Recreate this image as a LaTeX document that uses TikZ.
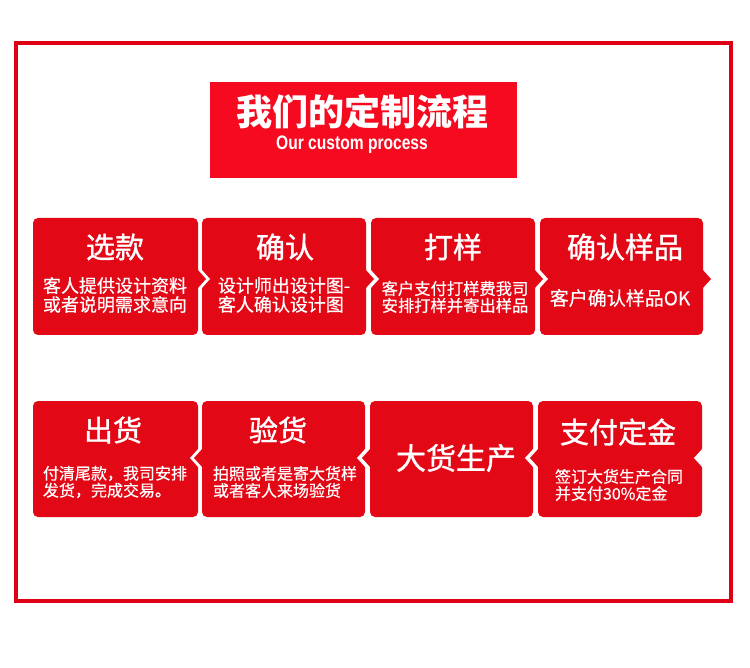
\documentclass[tikz,border=0pt]{standalone}
\usepackage{fontspec}
\setmainfont{Noto Sans CJK SC}
\newfontfamily\latinbold{Liberation Sans}
\newfontfamily\cjkmed{Noto Sans CJK SC}[FakeBold=1.2]
\newfontfamily\cjksub{Noto Sans CJK SC}[FakeBold=0.5]
\usepackage{graphicx}
\definecolor{boxred}{RGB}{226,8,22}
\definecolor{titlered}{RGB}{245,10,32}
\definecolor{framered}{RGB}{224,0,22}
\tikzset{
  boxshape/.style={fill=boxred, rounded corners=5pt},
  boxtitle/.style={text=white, inner sep=0pt, font=\cjkmed\fontsize{29}{29}\selectfont},
  boxsub/.style={text=white, inner sep=0pt, align=left, font=\cjksub\fontsize{18}{19}\selectfont},
  boxsubsmall/.style={text=white, inner sep=0pt, align=left, font=\cjksub\fontsize{16}{17}\selectfont},
}
% args: xl, xr, yt, yb
\newcommand{\redbox}[4]{\fill[boxshape] (#1,#3) rectangle (#2,#4);}
% notch (white triangle) pointing right into box at left edge xl, center y
\newcommand{\notchR}[2]{\fill[white] (#1-1,#2-10) -- (#1+8,#2) -- (#1-1,#2+10) -- cycle;}
% protrusion pointing right from right edge xr
\newcommand{\pointR}[2]{\fill[boxred] (#1-1,#2-10) -- (#1+8,#2) -- (#1-1,#2+10) -- cycle;}
% notch pointing left into box at right edge xr
\newcommand{\notchL}[2]{\fill[white] (#1+1,#2-10) -- (#1-8,#2) -- (#1+1,#2+10) -- cycle;}
% protrusion pointing left from left edge xl
\newcommand{\pointL}[2]{\fill[boxred] (#1+1,#2-10) -- (#1-8,#2) -- (#1+1,#2+10) -- cycle;}
\begin{document}
\begin{tikzpicture}[x=1pt,y=-1pt]
\useasboundingbox (0,0) rectangle (750,668);
\fill[white] (0,0) rectangle (750,668);
% frame
\draw[framered, line width=4.5pt] (16,43) rectangle (731,601);
% title
\fill[titlered] (210,82) rectangle (517,178);
\node[text=white, inner sep=0pt, font=\fontsize{36}{36}\selectfont\bfseries] (title) at (362,112) {我们的定制流程};
\node[text=white, inner sep=0pt] (subtitle) at (352,145) {\scalebox{0.8}[1]{\fontsize{19.5}{19.5}\selectfont\latinbold\bfseries Our custom process}};

% row 1 boxes
\redbox{33}{198}{218}{335}
\redbox{202}{366}{218}{335}
\redbox{371}{535}{218}{335}
\redbox{540}{703}{218}{335}
\notchR{202}{279}
\notchR{371}{279}
\notchR{540}{279}
\pointR{198}{279}
\pointR{366}{279}
\pointR{535}{279}
\pointR{703}{279}

% row 2 boxes
\redbox{33}{198}{401}{517}
\redbox{202}{365}{401}{517}
\redbox{370}{533}{401}{517}
\redbox{538}{702}{401}{517}
\notchL{198}{458}
\notchL{365}{458}
\notchL{533}{458}
\notchL{702}{458}
\pointL{202}{458}
\pointL{370}{458}
\pointL{538}{458}

% row 1 texts
\node[boxtitle] (t1) at (115,247) {选款};
\node[boxsub] (s1) at (115,295) {客人提供设计资料\\或者说明需求意向};
\node[boxtitle] (t2) at (285,247) {确认};
\node[boxsub] (s2) at (284,295) {设计师出设计图-\\客人确认设计图};
\node[boxtitle] (t3) at (453,247) {打样};
\node[boxsub, font=\cjksub\fontsize{16.3}{17}\selectfont] (s3) at (455,297) {客户支付打样费我司\\安排打样并寄出样品};
\node[boxtitle] (t4) at (625,247) {确认样品};
\node[boxsub, font=\cjksub\fontsize{19}{19}\selectfont] (s4) at (620,298) {客户确认样品OK};

% row 2 texts
\node[boxtitle] (t5) at (113,430) {出货};
\node[boxsubsmall] (s5) at (115,482) {付清尾款，我司安排\\发货，完成交易。};
\node[boxtitle] (t6) at (278,430) {验货};
\node[boxsubsmall] (s6) at (285,482) {拍照或者是寄大货样\\或者客人来场验货};
\node[boxtitle, font=\cjkmed\fontsize{30}{30}\selectfont] (t7) at (456,458) {大货生产};
\node[boxtitle] (t8) at (618,432) {支付定金};
\node[boxsubsmall] (s8) at (619,485) {签订大货生产合同\\并支付30\%定金};
\end{tikzpicture}
\end{document}
